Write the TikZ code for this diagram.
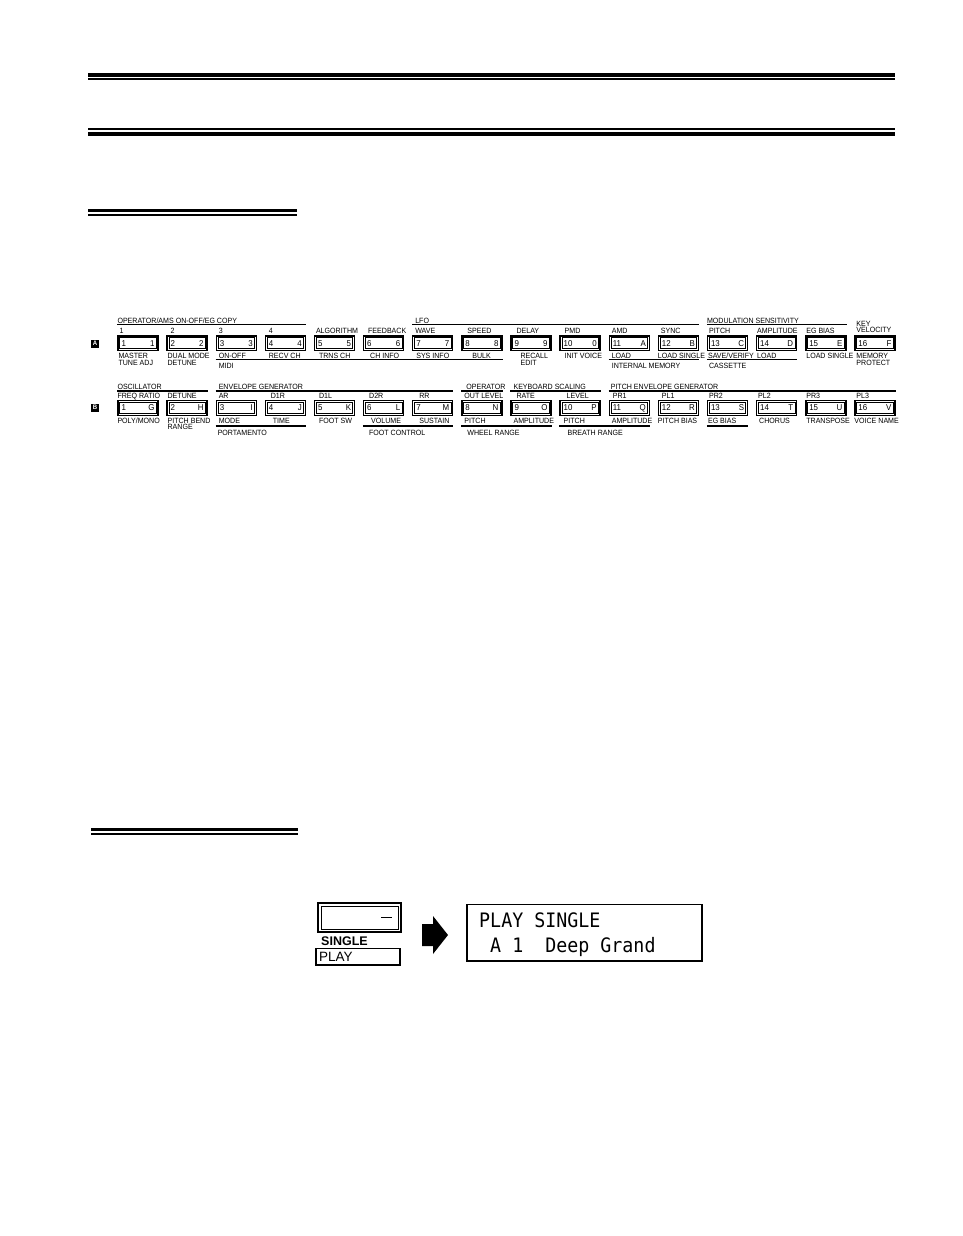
\documentclass[tikz,border=0pt]{standalone}
\usepackage{fontspec}
\setmainfont{Liberation Sans}
\newfontfamily\panelfont[FakeStretch=0.93]{Liberation Sans}
\newfontfamily\lcdfont[FakeStretch=0.92]{DejaVu Sans Mono}
\usetikzlibrary{calc}
\newcommand\panellab{\panelfont\fontsize{7.6}{6.5}\selectfont}
\newcommand\panelkey{\panelfont\fontsize{8.5}{9}\selectfont}
\tikzset{
  rulebar/.style={line width=#1, line cap=butt},
  keybtn/.style={draw, line width=1.4pt, minimum width=40pt, minimum height=14.5pt, inner sep=0pt},
  keyin/.style={draw, line width=0.7pt},
  keynum/.style={font=\panelkey, inner sep=0pt, anchor=west},
  keychr/.style={font=\panelkey, inner sep=0pt, anchor=east},
  lab/.style={font=\panellab, inner sep=0pt, anchor=north west, align=left},
  grp/.style={line width=1.1pt},
  badge/.style={fill=black, text=white, font=\panelfont\bfseries\fontsize{6.5}{7}\selectfont, minimum size=8pt, inner sep=0pt},
  lcdtxt/.style={font=\lcdfont\fontsize{19.9}{22}\selectfont, inner sep=0pt, anchor=base west},
  sgltxt/.style={inner sep=0pt, anchor=base west},
}

\begin{document}
\begin{tikzpicture}[x=1pt,y=-1pt]
  \useasboundingbox (0,0) rectangle (962,1236);

  % page rules
  \draw[rulebar=4pt] (88,75) -- (895,75);
  \draw[rulebar=1.8pt] (88,78.9) -- (895,78.9);
  \draw[rulebar=1.8pt] (88,128.9) -- (895,128.9);
  \draw[rulebar=4.2pt] (88,133.9) -- (895,133.9);
  \draw[rulebar=2.8pt] (88,210.4) -- (297,210.4);
  \draw[rulebar=2pt] (88,214.7) -- (297,214.7);
  \draw[rulebar=3pt] (91,829) -- (298,829);
  \draw[rulebar=2pt] (91,834) -- (298,834);

  % rule levels of the panel
  \coordinate (AH) at (0,324.5);
  \coordinate (AL) at (0,359.5);
  \coordinate (BH) at (0,391);
  \coordinate (BL) at (0,426);

  \node[badge] (rowA) at (95,343.5) {A};
  \node[badge] (rowB) at (95,407.5) {B};

  % row A keys
  \foreach \i/\c in {1/1,2/2,3/3,4/4,5/5,6/6,7/7,8/8,9/9,10/0,11/A,12/B,13/C,14/D,15/E,16/F}{
    \pgfmathsetmacro\bx{138+49.13*(\i-1)}
    \node[keybtn] (A\i) at (\bx,343.25) {};
    \draw[keyin] ($(A\i.north west)+(2.5,2.5)$) rectangle ($(A\i.south east)+(-2.5,-2.5)$);
    \node[keynum] (nA\i) at ($(A\i.west)+(4,0)$) {\i};
    \node[keychr] (cA\i) at ($(A\i.east)+(-4,0)$) {\c};
  }
  % row B keys
  \foreach \i/\c in {1/G,2/H,3/I,4/J,5/K,6/L,7/M,8/N,9/O,10/P,11/Q,12/R,13/S,14/T,15/U,16/V}{
    \pgfmathsetmacro\bx{138+49.13*(\i-1)}
    \node[keybtn] (B\i) at (\bx,408) {};
    \draw[keyin] ($(B\i.north west)+(2.5,2.5)$) rectangle ($(B\i.south east)+(-2.5,-2.5)$);
    \node[keynum] (nB\i) at ($(B\i.west)+(4,0)$) {\i};
    \node[keychr] (cB\i) at ($(B\i.east)+(-4,0)$) {\c};
  }

  % row A labels
  \foreach \i/\dx/\t in {1/2/1,2/4/2,3/3/3,4/4/4,5/2/ALGORITHM,6/5/FEEDBACK,7/3/WAVE,8/6/SPEED,
      9/6/DELAY,10/5/PMD,11/3/AMD,12/3/SYNC,13/2/PITCH,14/1/AMPLITUDE,15/1/EG BIAS}
    \node[lab] (tA\i) at ($(A\i.north west)+(\dx,-7.5)$) {\t};
  \node[lab] (tA16) at ($(A16.north west)+(2,-14.5)$) {KEY\\VELOCITY};
  \foreach \i/\dx/\t in {1/1/{MASTER\\TUNE ADJ},2/1/{DUAL MODE\\DETUNE},3/3/ON-OFF,4/4/RECV CH,
      5/5/TRNS CH,6/7/CH INFO,7/4/SYS INFO,8/11/BULK,9/10/{RECALL\\EDIT},10/5/INIT VOICE,
      11/3/LOAD,12/0/LOAD SINGLE,13/1/{SAVE/VERIFY},14/1/LOAD,15/1/LOAD SINGLE,16/2/{MEMORY\\PROTECT}}
    \node[lab] (bA\i) at ($(A\i.south west)+(\dx,2)$) {\t};

  % row B labels
  \foreach \i/\dx/\t in {1/0/FREQ RATIO,2/1/DETUNE,3/3/AR,4/6/D1R,5/5/D1L,6/6/D2R,7/7/RR,8/3/OUT LEVEL,
      9/6/RATE,10/7/LEVEL,11/4/PR1,12/4/PL1,13/2/PR2,14/2/PL2,15/1/PR3,16/2/PL3}
    \node[lab] (tB\i) at ($(B\i.north west)+(\dx,-7)$) {\t};
  \foreach \i/\dx/\t in {1/0/{POLY/MONO},2/1/{PITCH BEND\\RANGE},3/3/MODE,4/8/TIME,5/5/FOOT SW,
      6/8/VOLUME,7/7/SUSTAIN,8/3/PITCH,9/3/AMPLITUDE,10/4/PITCH,11/3/AMPLITUDE,12/0/PITCH BIAS,
      13/1/EG BIAS,14/3/CHORUS,15/1/TRANSPOSE,16/0/VOICE NAME}
    \node[lab] (bB\i) at ($(B\i.south west)+(\dx,2)$) {\t};

  % group rules and titles
  \foreach \a/\b/\dx/\t in {1/4/0/{OPERATOR/AMS ON-OFF/EG COPY},7/12/3/LFO,13/15/0/MODULATION SENSITIVITY}{
    \draw[grp] (A\a.west |- AH) -- (A\b.east |- AH);
    \node[lab] (hA\a) at ($(A\a.west |- AH)+(\dx,-7)$) {\t};
  }
  \foreach \a/\b/\dx/\t in {3/8/3/MIDI,11/12/3/INTERNAL MEMORY,13/14/2/CASSETTE}{
    \draw[grp] (A\a.west |- AL) -- (A\b.east |- AL);
    \node[lab] (lA\a) at ($(A\a.west |- AL)+(\dx,3.5)$) {\t};
  }
  \foreach \a/\b/\dx/\t in {1/2/0/OSCILLATOR,3/7/3/ENVELOPE GENERATOR,8/8/5/OPERATOR,
      9/10/3/KEYBOARD SCALING,11/16/2/PITCH ENVELOPE GENERATOR}{
    \draw[grp] (B\a.west |- BH) -- (B\b.east |- BH);
    \node[lab] (hB\a) at ($(B\a.west |- BH)+(\dx,-7)$) {\t};
  }
  \foreach \a/\b/\dx/\t in {3/4/2/PORTAMENTO,6/7/6/FOOT CONTROL,8/9/6/WHEEL RANGE,10/11/8/BREATH RANGE}{
    \draw[grp] (B\a.west |- BL) -- (B\b.east |- BL);
    \node[lab] (lB\a) at ($(B\a.west |- BL)+(\dx,3.5)$) {\t};
  }
  \draw[grp] (B13.west |- BL) -- (B13.east |- BL);

  % single play key and display
  \draw[line width=1.3pt] (318,903) rectangle (401,932);
  \draw[line width=0.8pt] (321,906) rectangle (398,929);
  \draw[line width=1.4pt] (381,917.5) -- (392,917.5);
  \node[sgltxt, font=\bfseries\fontsize{12.5}{14}\selectfont] (single) at (321,945) {SINGLE};
  \draw[line width=1.3pt] (316,948.5) rectangle (400,965);
  \node[sgltxt, font=\fontsize{13.5}{15}\selectfont] (play) at (319,961.5) {PLAY};
  \fill (422,924) -- (433,924) -- (433,916) -- (448,935) -- (433,954) -- (433,946) -- (422,946) -- cycle;
  \draw[line width=1.1pt] (467,904.5) rectangle (702,961);
  \node[lcdtxt] (lcd1) at (479,927) {PLAY SINGLE};
  \node[lcdtxt] (lcd2) at (490,952) {A 1\ \ Deep Grand};
\end{tikzpicture}
\end{document}
